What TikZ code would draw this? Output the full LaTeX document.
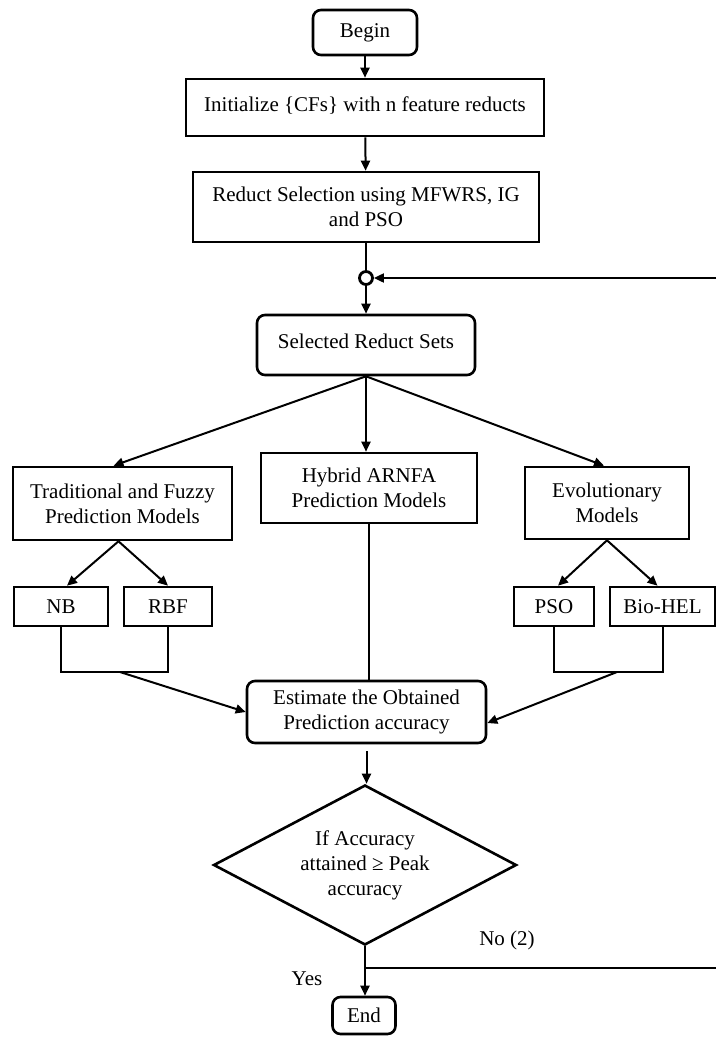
\documentclass[tikz,border=0pt]{standalone}
\usepackage{fontspec}
\setmainfont{Liberation Serif}
\usetikzlibrary{arrows.meta,shapes.geometric}
\begin{document}
\begin{tikzpicture}[x=1pt,y=-1pt,
  txt/.style={font=\fontsize{21}{25}\selectfont},
  box/.style={draw, line width=2.6pt, inner sep=2pt, align=center, txt},
  rbox/.style={box, rounded corners=8pt},
  conn/.style={line width=2pt},
  arr/.style={conn, -{Triangle[length=10pt,width=9pt]}}]
\fill[white] (0,0) rectangle (716,1038);
\useasboundingbox (0,0) rectangle (716,1038);
% nodes
\node[rbox, minimum width=104pt, minimum height=45pt] (begin) at (365,32.5) {Begin};
\node[box, minimum width=358pt, minimum height=57pt] (init) at (365,107.5) {\raisebox{7.5pt}{Initialize \{CFs\} with n feature reducts}};
\node[box, minimum width=346pt, minimum height=70pt] (reduct) at (366,207) {Reduct Selection using MFWRS, IG\\and PSO};
\node[draw, circle, line width=2.8pt, minimum size=13pt, inner sep=0pt] (circ) at (366,278) {};
\node[rbox, minimum width=218pt, minimum height=60pt] (sel) at (366,345) {\raisebox{7pt}{Selected Reduct Sets}};
\node[box, minimum width=219pt, minimum height=73pt] (trad) at (122.5,503.5) {Traditional and Fuzzy\\Prediction Models};
\node[box, minimum width=216pt, minimum height=70pt] (hyb) at (369,488) {Hybrid ARNFA\\Prediction Models};
\node[box, minimum width=164pt, minimum height=72pt] (evo) at (607,503) {Evolutionary\\Models};
\node[box, minimum width=94pt, minimum height=39pt] (nb) at (61,606.5) {NB};
\node[box, minimum width=88pt, minimum height=39pt] (rbf) at (168,606.5) {RBF};
\node[box, minimum width=80pt, minimum height=39pt] (pso) at (554,606.5) {PSO};
\node[box, minimum width=105pt, minimum height=39pt] (bio) at (662.5,606.5) {Bio-HEL};
\node[rbox, minimum width=239pt, minimum height=62pt] (est) at (366.5,712) {Estimate the Obtained\\Prediction accuracy};
\node[box, diamond, shape aspect=1.89, inner sep=0pt, minimum width=303pt, minimum height=160pt] (dec) at (365,865) {If Accuracy\\attained ≥ Peak\\accuracy};
\node[rbox, minimum width=63pt, minimum height=37pt] (end) at (364,1015.5) {End};
\node[txt] (no) at (507,940) {No (2)};
\node[txt] (yes) at (307,979) {Yes};
% coordinates
\coordinate (lbot) at (120,672);
\coordinate (rbot) at (617,672);
\coordinate (jn) at (365,968);
\coordinate (re) at (716,968);
\coordinate (rt) at (716,278);
% connectors
\draw[arr] (begin) -- (init);
\draw[arr] (init) -- (reduct);
\draw[conn] (reduct) -- (circ);
\draw[arr] (circ) -- (sel);
\draw[arr] (sel.south) -- ([xshift=-9pt]trad.north);
\draw[arr] (sel.south) -- (sel.south |- hyb.north);
\draw[arr] (sel.south) -- ([xshift=-3pt]evo.north);
\draw[arr] ([xshift=-4pt]trad.south) -- ([xshift=6pt]nb.north);
\draw[arr] ([xshift=-4pt]trad.south) -- (rbf.north);
\draw[arr] (evo.south) -- ([xshift=4pt]pso.north);
\draw[arr] (evo.south) -- ([xshift=-5pt]bio.north);
\draw[conn] (nb.south) |- (lbot) -| (rbf.south);
\draw[conn] (pso.south) |- (rbot) -| (bio.south);
\draw[arr] (lbot) -- (est.west);
\draw[arr] (rbot) -- ([yshift=-11pt]est.east);
\draw[conn] (hyb.south) -- (hyb.south |- est.north);
\draw[arr] ([yshift=-7pt]est.south) -- (est.south |- dec.north);
\draw[arr] (dec.south) -- (dec.south |- end.north);
\draw[conn] (jn) -- (re);
\draw[arr] (rt) -- (circ.east);
\end{tikzpicture}
\end{document}
